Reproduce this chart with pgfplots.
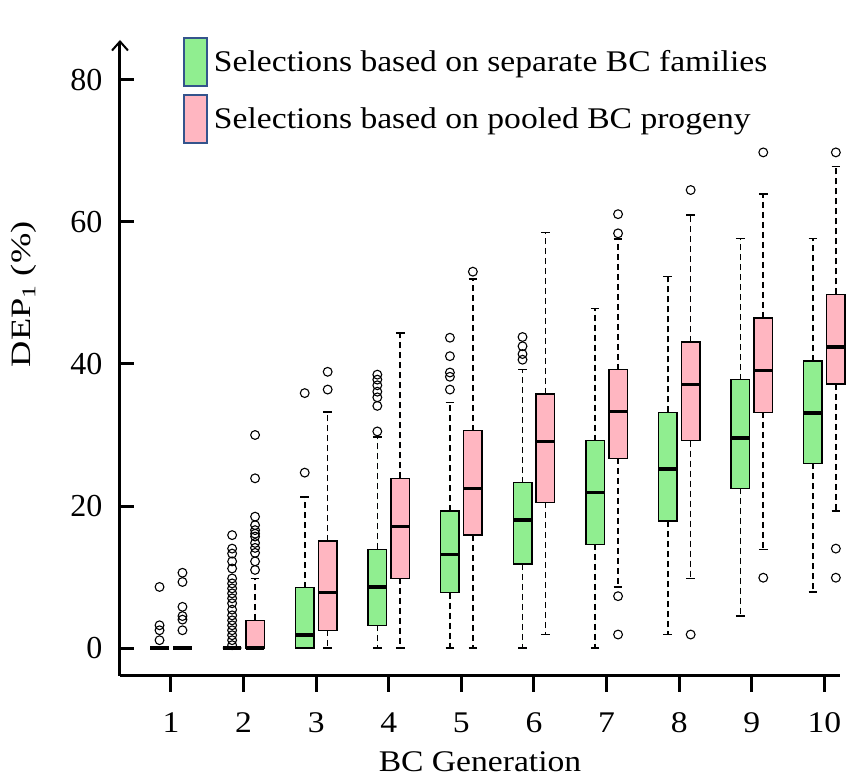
\documentclass[border=0pt]{standalone}
\usepackage{fontspec}
\setmainfont{Liberation Serif}
\newfontfamily\wideserif{Liberation Serif}[FakeStretch=1.12]
\newfontfamily\tallserif{Liberation Serif}[FakeStretch=1.3]
\usepackage{pgfplots}
\pgfplotsset{compat=1.18}
\usepgfplotslibrary{statistics}
\usetikzlibrary{arrows.meta}

\definecolor{boxgreen}{RGB}{144,238,144}
\definecolor{boxpink}{RGB}{255,182,193}
\definecolor{keyblue}{RGB}{52,84,140}

% box half-offset from the generation tick
\newcommand{\off}{0.158}

\pgfplotsset{
  bcbox/.style={
    forget plot,
    draw=black,
    mark=o,
    mark size=4.4pt,
    mark options={solid, draw=black, fill=none, line width=1.1pt},
    boxplot/draw direction=y,
    boxplot/box extend=0.255,
    boxplot/whisker extend=0.12,
    boxplot/every box/.style={line width=1.5pt},
    boxplot/every median/.style={line width=3.5pt},
    boxplot/draw/lower whisker/.code={%
      \draw[line width=1.6pt, dash pattern=on 6pt off 4pt]
        (boxplot cs:\pgfplotsboxplotvalue{lower quartile})
        -- (boxplot cs:\pgfplotsboxplotvalue{lower whisker});
      \draw[line width=1.6pt]
        (boxplot whisker cs:\pgfplotsboxplotvalue{lower whisker},0)
        -- (boxplot whisker cs:\pgfplotsboxplotvalue{lower whisker},1);
    },
    boxplot/draw/upper whisker/.code={%
      \draw[line width=1.6pt, dash pattern=on 6pt off 4pt]
        (boxplot cs:\pgfplotsboxplotvalue{upper quartile})
        -- (boxplot cs:\pgfplotsboxplotvalue{upper whisker});
      \draw[line width=1.6pt]
        (boxplot whisker cs:\pgfplotsboxplotvalue{upper whisker},0)
        -- (boxplot whisker cs:\pgfplotsboxplotvalue{upper whisker},1);
    },
  },
  sep/.style={bcbox, fill=boxgreen},
  pool/.style={bcbox, fill=boxpink},
}

\begin{document}
\begin{tikzpicture}
\begin{axis}[
  scale only axis,
  clip=false,
  width=720pt, height=636pt,
  xmin=0.2975, xmax=10.215,
  ymin=-3.94, ymax=85.63,
  axis x line=bottom,
  axis y line=left,
  axis line style={line width=3pt},
  x axis line style={-},
  y axis line style={-{Straight Barb[length=9pt,width=16pt,line width=2pt]}},
  xtick={1,...,10},
  ytick={0,20,40,60,80},
  tick align=inside,
  major tick length=14pt,
  every tick/.style={black, line width=3pt},
  major x tick style={draw=none},
  /pgf/number format/assume math mode=true,
  yticklabel style={font=\fontsize{32}{38}\selectfont, xshift=-14pt},
  xticklabel style={font=\wideserif\fontsize{30}{36}\selectfont, yshift=-33pt},
  xlabel={BC Generation},
  xlabel style={font=\wideserif\fontsize{30}{36}\selectfont,
    at={(axis description cs:0.5,0)}, anchor=center, yshift=-86pt},
  ylabel={DEP\textsubscript{1} (\%)},
  ylabel style={font=\tallserif\fontsize{28}{33}\selectfont,
    at={(axis description cs:-0.133,0.6)}, anchor=center},
  legend cell align=left,
  legend style={
    at={(0.0875,1.005)}, anchor=north west,
    draw=none, fill=none, inner sep=0pt, outer sep=0pt,
    row sep=7pt, column sep=0pt,
    nodes={inner xsep=6pt, inner ysep=0pt},
    font=\wideserif\fontsize{30}{36}\selectfont,
  },
]

% generation 1
\addplot[sep, boxplot prepared={draw position=1-\off,
  lower whisker=0, lower quartile=0, median=0, upper quartile=0, upper whisker=0}]
  table[row sep=\\, y index=0] {v\\ 8.6\\ 3.2\\ 2.5\\ 1.1\\};
\addplot[pool, boxplot prepared={draw position=1+\off,
  lower whisker=0, lower quartile=0, median=0, upper quartile=0, upper whisker=0}]
  table[row sep=\\, y index=0] {v\\ 10.6\\ 9.3\\ 5.8\\ 4.5\\ 4.0\\ 2.5\\};

% generation 2
\addplot[sep, boxplot prepared={draw position=2-\off,
  lower whisker=0, lower quartile=0, median=0, upper quartile=0, upper whisker=0}]
  table[row sep=\\, y index=0] {v\\ 15.9\\ 14.0\\ 13.3\\ 12.2\\ 11.2\\ 9.8\\ 9.1\\ 8.4\\ 7.7\\ 7.0\\ 6.3\\ 5.4\\ 4.6\\ 3.9\\ 3.2\\ 2.5\\ 1.8\\ 1.1\\ 0.4\\};
\addplot[pool, boxplot prepared={draw position=2+\off,
  lower whisker=0, lower quartile=0, median=0, upper quartile=3.9, upper whisker=9.8}]
  table[row sep=\\, y index=0] {v\\ 11.0\\ 12.2\\ 13.4\\ 14.1\\ 14.8\\ 15.7\\ 16.1\\ 16.6\\ 17.3\\ 18.5\\ 23.9\\ 30.0\\};

% generation 3
\addplot[sep, boxplot prepared={draw position=3-\off,
  lower whisker=0, lower quartile=0, median=1.8, upper quartile=8.5, upper whisker=21.3}]
  table[row sep=\\, y index=0] {v\\ 24.7\\ 35.9\\};
\addplot[pool, boxplot prepared={draw position=3+\off,
  lower whisker=0, lower quartile=2.5, median=7.8, upper quartile=15.1, upper whisker=33.2}]
  table[row sep=\\, y index=0] {v\\ 36.4\\ 38.9\\};

% generation 4
\addplot[sep, boxplot prepared={draw position=4-\off,
  lower whisker=0, lower quartile=3.2, median=8.6, upper quartile=13.9, upper whisker=29.7}]
  table[row sep=\\, y index=0] {v\\ 30.5\\ 34.1\\ 35.3\\ 36.1\\ 37.0\\ 37.8\\ 38.5\\};
\addplot[pool, boxplot prepared={draw position=4+\off,
  lower whisker=0, lower quartile=9.8, median=17.1, upper quartile=23.9, upper whisker=44.4}]
  table[row sep=\\, y index=0] {v\\};

% generation 5
\addplot[sep, boxplot prepared={draw position=5-\off,
  lower whisker=0, lower quartile=7.8, median=13.2, upper quartile=19.3, upper whisker=34.6}]
  table[row sep=\\, y index=0] {v\\ 36.4\\ 38.2\\ 38.8\\ 41.1\\ 43.7\\};
\addplot[pool, boxplot prepared={draw position=5+\off,
  lower whisker=0, lower quartile=15.9, median=22.5, upper quartile=30.6, upper whisker=52.0}]
  table[row sep=\\, y index=0] {v\\ 53.0\\};

% generation 6
\addplot[sep, boxplot prepared={draw position=6-\off,
  lower whisker=0, lower quartile=11.8, median=18.0, upper quartile=23.3, upper whisker=39.2}]
  table[row sep=\\, y index=0] {v\\ 40.6\\ 41.4\\ 42.5\\ 43.8\\};
\addplot[pool, boxplot prepared={draw position=6+\off,
  lower whisker=1.9, lower quartile=20.5, median=29.1, upper quartile=35.8, upper whisker=58.5}]
  table[row sep=\\, y index=0] {v\\};

% generation 7
\addplot[sep, boxplot prepared={draw position=7-\off,
  lower whisker=0, lower quartile=14.6, median=21.9, upper quartile=29.2, upper whisker=47.8}]
  table[row sep=\\, y index=0] {v\\};
\addplot[pool, boxplot prepared={draw position=7+\off,
  lower whisker=8.6, lower quartile=26.7, median=33.3, upper quartile=39.2, upper whisker=57.6}]
  table[row sep=\\, y index=0] {v\\ 58.4\\ 61.1\\ 7.3\\ 1.9\\};

% generation 8
\addplot[sep, boxplot prepared={draw position=8-\off,
  lower whisker=1.9, lower quartile=17.9, median=25.2, upper quartile=33.2, upper whisker=52.3}]
  table[row sep=\\, y index=0] {v\\};
\addplot[pool, boxplot prepared={draw position=8+\off,
  lower whisker=9.8, lower quartile=29.2, median=37.1, upper quartile=43.1, upper whisker=61.0}]
  table[row sep=\\, y index=0] {v\\ 64.5\\ 1.9\\};

% generation 9
\addplot[sep, boxplot prepared={draw position=9-\off,
  lower whisker=4.5, lower quartile=22.5, median=29.6, upper quartile=37.8, upper whisker=57.7}]
  table[row sep=\\, y index=0] {v\\};
\addplot[pool, boxplot prepared={draw position=9+\off,
  lower whisker=13.9, lower quartile=33.2, median=39.1, upper quartile=46.5, upper whisker=63.9}]
  table[row sep=\\, y index=0] {v\\ 69.8\\ 9.9\\};

% generation 10
\addplot[sep, boxplot prepared={draw position=10-\off,
  lower whisker=7.9, lower quartile=26.0, median=33.1, upper quartile=40.4, upper whisker=57.7}]
  table[row sep=\\, y index=0] {v\\};
\addplot[pool, boxplot prepared={draw position=10+\off,
  lower whisker=19.3, lower quartile=37.2, median=42.4, upper quartile=49.8, upper whisker=67.8}]
  table[row sep=\\, y index=0] {v\\ 69.8\\ 14.0\\ 9.9\\};

% generation ticks, hanging below the horizontal axis line
\foreach \g in {1,...,10} {
  \edef\tickcmd{\noexpand\draw[black, line width=3pt]
    (axis cs:\g,-3.94) -- ([yshift=-16pt]axis cs:\g,-3.94);}
  \tickcmd
}

\addlegendimage{legend image code/.code={%
  \draw[fill=boxgreen, draw=keyblue, line width=2pt] (0pt,-24pt) rectangle (23pt,24pt);}}
\addlegendentry{Selections based on separate BC families}
\addlegendimage{legend image code/.code={%
  \draw[fill=boxpink, draw=keyblue, line width=2pt] (0pt,-24pt) rectangle (23pt,24pt);}}
\addlegendentry{Selections based on pooled BC progeny}
\end{axis}
\pgfresetboundingbox
\path (-120pt,-107pt) rectangle (732pt,676pt);
\end{tikzpicture}
\end{document}
